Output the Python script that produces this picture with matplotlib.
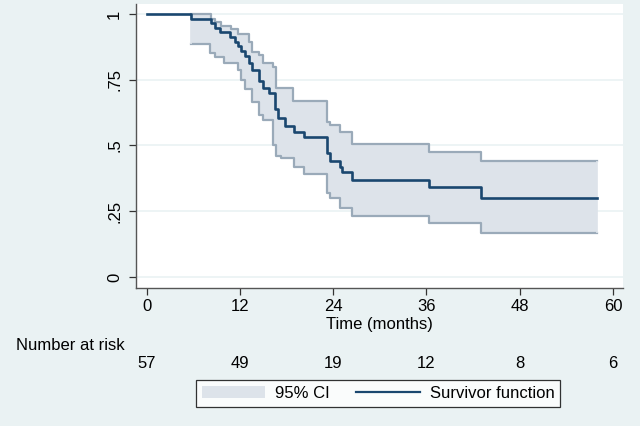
import numpy as np
import matplotlib
matplotlib.use("Agg")
import matplotlib.pyplot as plt
from matplotlib.patches import Patch
from matplotlib.lines import Line2D
from matplotlib.transforms import blended_transform_factory

plt.rcParams['font.family'] = ['Liberation Sans Narrow', 'Liberation Sans', 'DejaVu Sans']

# Kaplan-Meier survivor function (step times in months, value after the step)
surv_time = [0, 5.7, 8.3, 8.8, 9.4, 10.7, 11.4, 11.8, 12.1, 12.7, 13.1, 13.5, 14.4,
             15.0, 15.8, 16.5, 16.9, 17.8, 19.0, 20.3, 23.2, 23.6, 24.9, 25.1, 26.4,
             36.3, 43.0]
surv_val = [1.0, 0.982, 0.965, 0.947, 0.930, 0.912, 0.895, 0.877, 0.860, 0.842, 0.814,
            0.787, 0.745, 0.720, 0.700, 0.640, 0.605, 0.575, 0.553, 0.533, 0.470, 0.441,
            0.419, 0.400, 0.369, 0.341, 0.300]
end_time = 58.0

# 95% confidence band
upper_time = [5.7, 8.3, 8.8, 9.6, 10.9, 11.8, 13.1, 13.5, 14.4, 15.0, 16.3, 16.6,
              18.8, 23.2, 23.6, 24.9, 26.4, 36.3, 43.0]
upper_val = [1.0, 0.981, 0.968, 0.955, 0.942, 0.923, 0.893, 0.857, 0.844, 0.812, 0.800,
             0.717, 0.670, 0.590, 0.578, 0.552, 0.504, 0.474, 0.442]
lower_time = [5.7, 8.2, 8.8, 10.0, 11.7, 12.1, 12.7, 13.5, 14.4, 15.0, 16.3, 16.7,
              17.3, 19.0, 20.3, 23.2, 23.6, 24.9, 26.4, 36.3, 43.0]
lower_val = [0.885, 0.852, 0.838, 0.812, 0.787, 0.750, 0.715, 0.665, 0.615, 0.597, 0.502,
             0.460, 0.451, 0.419, 0.392, 0.318, 0.299, 0.261, 0.233, 0.205, 0.166]

risk_time = [0, 12, 24, 36, 48, 60]
risk_n = [57, 49, 19, 12, 8, 6]

bg = '#eaf2f3'
navy = '#1a476f'
ci_fill = '#dde3ea'
ci_edge = '#9aaab9'

fig = plt.figure(figsize=(6.4, 4.26), dpi=100, facecolor=bg)
ax = fig.add_axes([136 / 640, 1 - 288 / 426, (623 - 136) / 640, (288 - 4) / 426])
ax.set_facecolor('white')

# band on a common grid
grid = np.union1d(upper_time, lower_time)
grid = np.append(grid, end_time)
up = np.array(upper_val)[np.searchsorted(upper_time, grid, side='right') - 1]
lo = np.array(lower_val)[np.searchsorted(lower_time, grid, side='right') - 1]
ax.fill_between(grid, lo, up, step='post', color=ci_fill, lw=0)
ax.step(np.append(upper_time, end_time), np.append(upper_val, upper_val[-1]),
        where='post', color=ci_edge, lw=1.6)
ax.step(np.append(lower_time, end_time), np.append(lower_val, lower_val[-1]),
        where='post', color=ci_edge, lw=1.6)
ax.vlines([upper_time[0], end_time], [lower_val[0], lower_val[-1]],
          [upper_val[0], upper_val[-1]], color=ci_fill, lw=1.2)

ax.step(np.append(surv_time, end_time), np.append(surv_val, surv_val[-1]),
        where='post', color=navy, lw=1.9)

ax.set_xlim(-1.38, 61.3)
ax.set_ylim(-0.042, 1.038)
ax.set_xticks(risk_time)
ax.set_yticks([0, 0.25, 0.5, 0.75, 1])
ax.set_yticklabels(['0', '.25', '.5', '.75', '1'], rotation=90, va='center')
ax.tick_params(axis='both', labelsize=12, color='#333333', length=5, width=0.9)
ax.tick_params(axis='x', pad=3)
ax.tick_params(axis='y', pad=5)
ax.yaxis.grid(True, color=bg, lw=1.2)
ax.set_axisbelow(True)
for s in ['top', 'right']:
    ax.spines[s].set_visible(False)
for s in ['left', 'bottom']:
    ax.spines[s].set_color('#555555')
    ax.spines[s].set_linewidth(1.0)

ax.set_xlabel('Time (months)', fontsize=12, labelpad=2)

# number at risk table
fig.text(16 / 640, 1 - 345 / 426, 'Number at risk', fontsize=12, va='center', ha='left')
trans = blended_transform_factory(ax.transData, fig.transFigure)
for t, n in zip(risk_time, risk_n):
    ax.text(t, 1 - 364 / 426, str(n), transform=trans, fontsize=12,
            ha='center', va='center', clip_on=False)

handles = [Patch(facecolor=ci_fill, edgecolor='none'),
           Line2D([], [], color=navy, lw=1.6)]
leg = fig.legend(handles, ['95% CI', 'Survivor function'], ncol=2,
                 loc='center', bbox_to_anchor=(378 / 640, 1 - 393.5 / 426),
                 fontsize=12, frameon=True, fancybox=False, handlelength=3.8,
                 handletextpad=0.6, columnspacing=1.6, borderpad=0.35)
leg.get_frame().set_edgecolor('black')
leg.get_frame().set_linewidth(0.9)

fig.savefig('out.png', dpi=100, facecolor=bg)
